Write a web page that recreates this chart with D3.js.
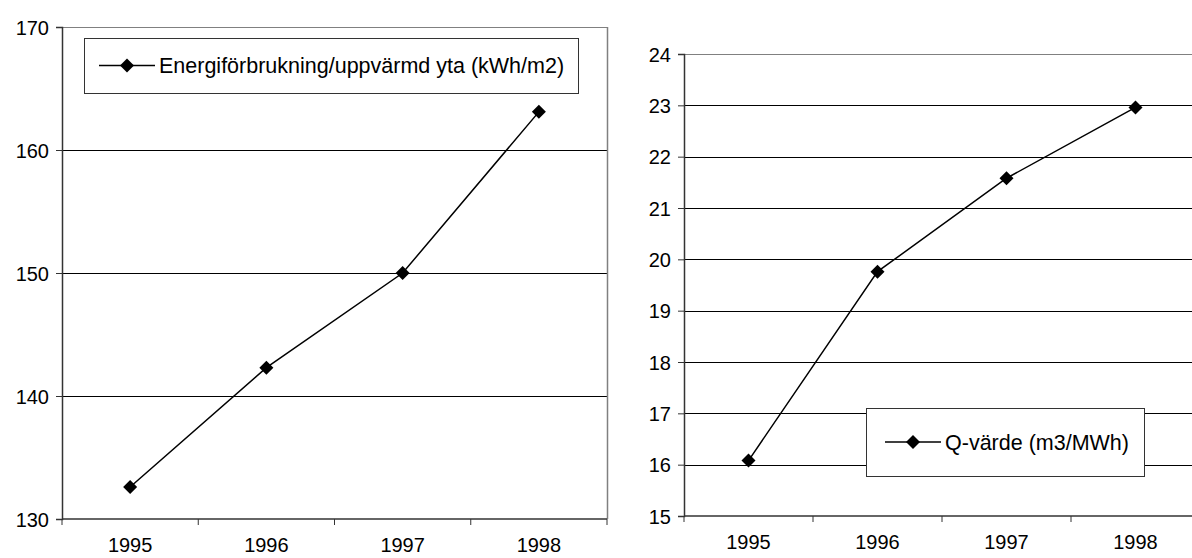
<!DOCTYPE html>
<html><head><meta charset="utf-8">
<script src="https://cdn.jsdelivr.net/npm/d3@7"></script>
<style>
body{margin:0;background:#fff;overflow:hidden}
text{font-family:Arial,"Liberation Sans",sans-serif;fill:#000}
</style>
</head><body>
<svg id="c" width="1192" height="558"></svg>
<script>
const years = ["1995", "1996", "1997", "1998"];
const energyValues = [132.6, 142.3, 150.0, 163.1];
const qValues = [16.08, 19.76, 21.58, 22.96];
const energyTicks = [130, 140, 150, 160, 170];
const qTicks = [15, 16, 17, 18, 19, 20, 21, 22, 23, 24];
const energyLabel = "Energiförbrukning/uppvärmd yta (kWh/m2)";
const qLabel = "Q-värde (m3/MWh)";

const svg = d3.select("#c");

function diamondPath(r) {
  return `M0,${-r}L${r},0L0,${r}L${-r},0Z`;
}

function panel(cfg) {
  const g = svg.append("g");
  const x = d3.scaleBand().domain(years).range([cfg.left, cfg.right]).padding(0);
  const y = d3.scaleLinear().domain([cfg.ticks[0], cfg.ticks[cfg.ticks.length - 1]]).range([cfg.bottom, cfg.top]);

  // gridlines
  cfg.ticks.forEach((t, i) => {
    if (i === 0) return;
    const top = i === cfg.ticks.length - 1;
    g.append("line")
      .attr("x1", cfg.left).attr("x2", cfg.right)
      .attr("y1", Math.round(y(t)) + 0.5).attr("y2", Math.round(y(t)) + 0.5)
      .attr("stroke", top ? "#808080" : "#000").attr("stroke-width", 1);
  });
  if (cfg.rightBorder) {
    g.append("line")
      .attr("x1", cfg.right + 0.5).attr("x2", cfg.right + 0.5)
      .attr("y1", cfg.top).attr("y2", cfg.bottom)
      .attr("stroke", "#808080").attr("stroke-width", 1.5);
  }

  // y axis
  const ya = d3.axisLeft(y).tickValues(cfg.ticks).tickSize(6).tickPadding(7).tickFormat(d3.format("d"));
  const yg = g.append("g").attr("transform", `translate(${cfg.left},0)`).call(ya);
  yg.select(".domain").attr("stroke", "#333").attr("stroke-width", 1.5);
  yg.selectAll(".tick line").attr("stroke", "#333");
  yg.selectAll("text").style("font-size", cfg.fs + "px").attr("dy", "0.35em");

  // x axis (labels centered in bands, ticks at band boundaries)
  const xa = d3.axisBottom(x).tickSize(0).tickPadding(19);
  const xg = g.append("g").attr("transform", `translate(0,${cfg.bottom})`).call(xa);
  xg.select(".domain").remove();
  xg.selectAll("text").style("font-size", cfg.fs + "px");
  g.append("line").attr("x1", cfg.left).attr("x2", cfg.right)
    .attr("y1", cfg.bottom).attr("y2", cfg.bottom)
    .attr("stroke", "#333").attr("stroke-width", 1.5);
  const bounds = years.map(d => x(d)).concat([cfg.right]);
  g.selectAll(".xt").data(bounds).join("line")
    .attr("x1", d => d).attr("x2", d => d)
    .attr("y1", cfg.bottom).attr("y2", cfg.bottom + 6)
    .attr("stroke", "#333").attr("stroke-width", 1);

  // series line
  const line = d3.line().x((d, i) => x(years[i]) + x.bandwidth() / 2).y(d => y(d));
  g.append("path").datum(cfg.values).attr("d", line)
    .attr("fill", "none").attr("stroke", "#000").attr("stroke-width", 1.5);
  g.selectAll(".mk").data(cfg.values).join("path")
    .attr("d", diamondPath(7))
    .attr("transform", (d, i) => `translate(${x(years[i]) + x.bandwidth() / 2},${y(d)})`)
    .attr("fill", "#000");

  // legend
  const L = cfg.legend;
  g.append("rect").attr("x", L.x + 0.5).attr("y", L.y + 0.5).attr("width", L.w).attr("height", L.h)
    .attr("fill", "#fff").attr("stroke", "#333").attr("stroke-width", 1);
  const ly = L.y + L.h / 2;
  g.append("line").attr("x1", L.x + L.l1).attr("x2", L.x + L.l1 + 56).attr("y1", ly).attr("y2", ly)
    .attr("stroke", "#000").attr("stroke-width", 1.5);
  g.append("path").attr("d", diamondPath(7)).attr("transform", `translate(${L.x + L.l1 + 28},${ly})`).attr("fill", "#000");
  g.append("text").attr("x", L.x + L.l1 + 60).attr("y", ly).attr("dy", "0.35em")
    .style("font-size", L.fs + "px").text(L.text);
}

panel({
  left: 62, right: 607, top: 27, bottom: 519,
  ticks: energyTicks, values: energyValues, rightBorder: true, fs: 20,
  legend: {x: 84, y: 38, w: 494, h: 55, l1: 15, text: energyLabel, fs: 21.5}
});
panel({
  left: 684, right: 1200, top: 54, bottom: 516,
  ticks: qTicks, values: qValues, rightBorder: false, fs: 20,
  legend: {x: 866, y: 408, w: 278, h: 68, l1: 19, text: qLabel, fs: 21.5}
});
</script>
</body></html>
